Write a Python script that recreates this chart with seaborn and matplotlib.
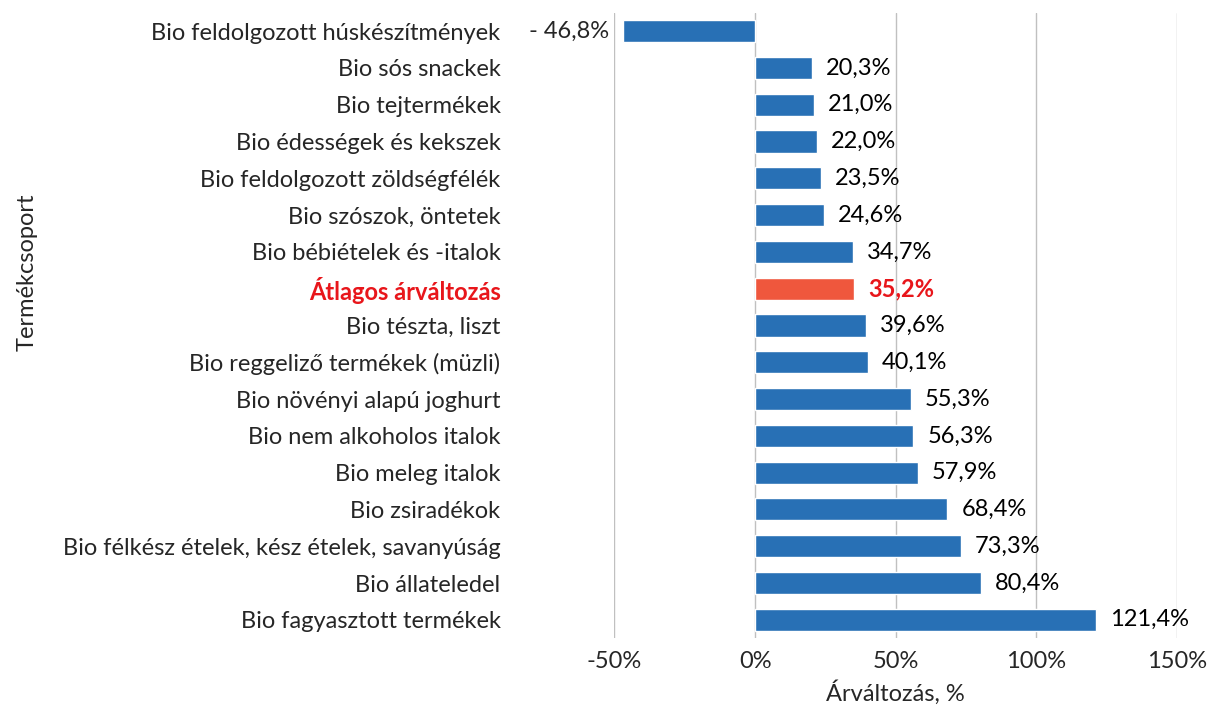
import matplotlib.pyplot as plt
import seaborn as sns
import pandas as pd

# Adatok
termekcsoportok = [
    "Bio feldolgozott húskészítmények",
    "Bio sós snackek",
    "Bio tejtermékek",
    "Bio édességek és kekszek",
    "Bio feldolgozott zöldségfélék",
    "Bio szószok, öntetek",
    "Bio bébiételek és -italok",
    "Átlagos árváltozás",
    "Bio tészta, liszt",
    "Bio reggeliző termékek (müzli)",
    "Bio növényi alapú joghurt",
    "Bio nem alkoholos italok",
    "Bio meleg italok",
    "Bio zsiradékok",
    "Bio félkész ételek, kész ételek, savanyúság",
    "Bio állateledel",
    "Bio fagyasztott termékek",
]
valtozas = [-46.8, 20.3, 21.0, 22.0, 23.5, 24.6, 34.7, 35.2, 39.6, 40.1,
            55.3, 56.3, 57.9, 68.4, 73.3, 80.4, 121.4]
x_tickek = [-50, 0, 50, 100, 150]
kiemelt = "Átlagos árváltozás"

kek = "#2870b5"
piros = "#ef573d"
piros_szoveg = "#e8161b"
meret = 17

df = pd.DataFrame({"csoport": termekcsoportok, "valtozas": valtozas})
df["tipus"] = ["kiemelt" if c == kiemelt else "normal" for c in df["csoport"]]

sns.set_style("white")
plt.rcParams["font.family"] = ["Lato", "DejaVu Sans"]

fig = plt.figure(figsize=(12.12, 7.06), dpi=100)
ax = fig.add_axes([0.507, 0.096, 0.464, 0.886])

sns.barplot(data=df, x="valtozas", y="csoport", hue="tipus",
            palette={"normal": kek, "kiemelt": piros}, dodge=False,
            saturation=1, width=0.6, legend=False, ax=ax, orient="h")

ax.set_xlim(-50, 150)
ax.set_xticks(x_tickek)
ax.set_xticklabels([f"{t}%" for t in x_tickek], fontsize=meret)
ax.xaxis.grid(True, color="#c0c0c0", linewidth=1)
ax.set_axisbelow(True)
for s in ax.spines.values():
    s.set_visible(False)
ax.tick_params(axis="y", length=0, pad=82)
ax.tick_params(axis="x", length=0, pad=9)

for lbl in ax.get_yticklabels():
    lbl.set_fontsize(meret)
    if lbl.get_text() == kiemelt:
        lbl.set_color(piros_szoveg)
        lbl.set_fontweight("bold")

for i, (c, v) in enumerate(zip(termekcsoportok, valtozas)):
    szoveg = f"{v:.1f}%".replace(".", ",")
    if v < 0:
        szoveg = "- " + szoveg[1:]
        ax.annotate(szoveg, (v, i), xytext=(-10, 0), textcoords="offset points",
                    ha="right", va="center", fontsize=meret)
    else:
        bold = c == kiemelt
        ax.annotate(szoveg, (v, i), xytext=(10, 0), textcoords="offset points",
                    ha="left", va="center", fontsize=meret,
                    color=piros_szoveg if bold else "black",
                    fontweight="bold" if bold else "normal")

ax.set_xlabel("Árváltozás, %", fontsize=meret, labelpad=6)
ax.set_ylabel("")
fig.text(0.022, 0.615, "Termékcsoport", rotation=90, ha="center", va="center", fontsize=meret)

fig.savefig("out.png", dpi=100)
